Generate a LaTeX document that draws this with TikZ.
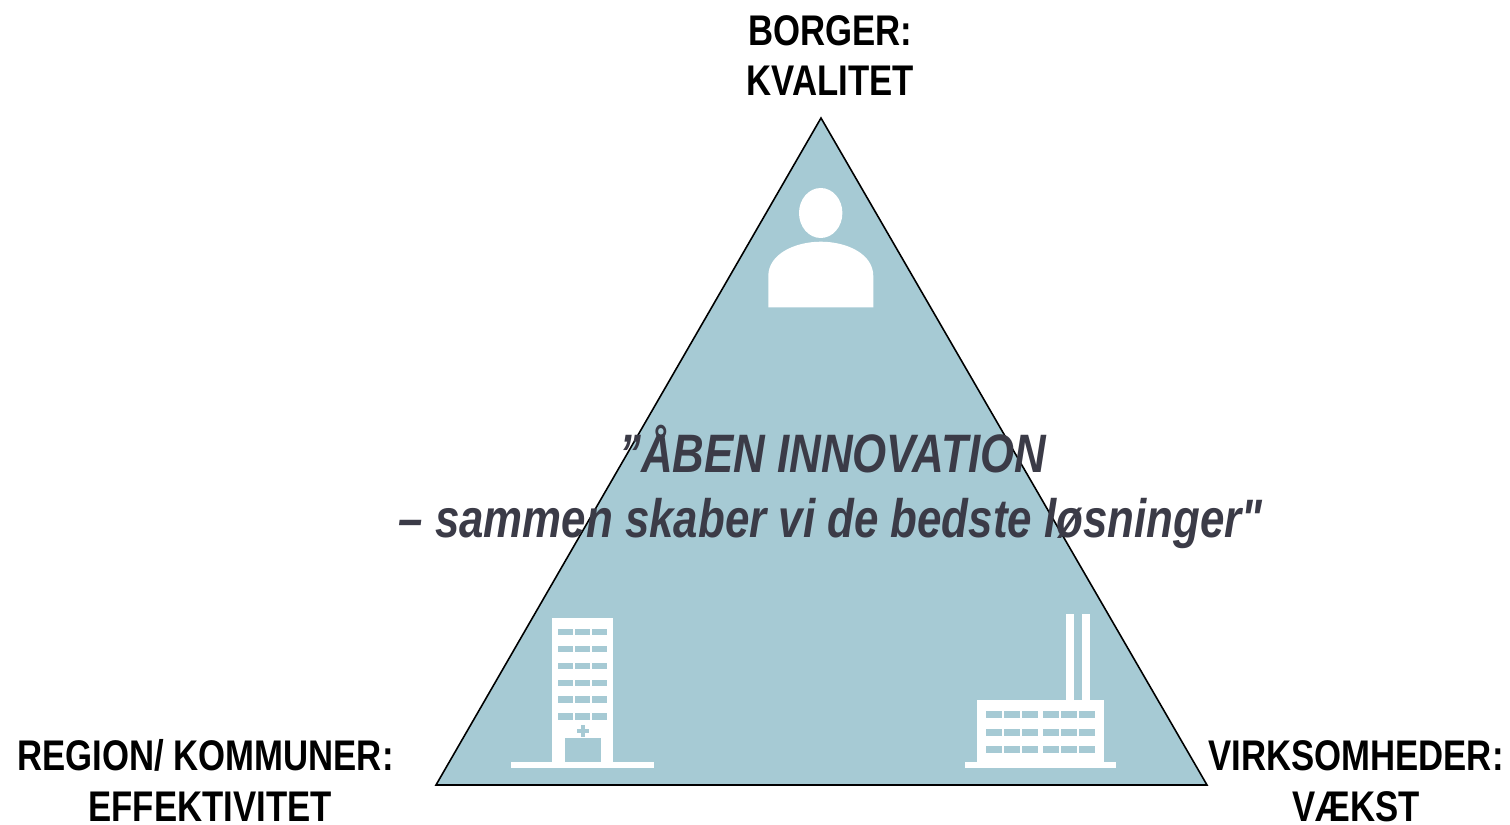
\documentclass[tikz,border=0pt]{standalone}
\usepackage{fontspec}
\setmainfont[FakeStretch=0.81,Ligatures=TeXOff]{Liberation Sans}
\definecolor{tealfill}{HTML}{A6CAD4}
\definecolor{slatetext}{HTML}{3B3B47}
\begin{document}
\begin{tikzpicture}[x=0.1mm,y=-0.1mm,
                corner label/.style={inner sep=0pt,align=center,text=black,font=\fontsize{12.2}{14.4}\selectfont\bfseries},
                slogan/.style={inner sep=0pt,align=center,text=slatetext,font=\fontsize{15.4}{18.5}\selectfont\bfseries\itshape},
                icon/.style={fill=white,draw=none},
                pane/.style={fill=tealfill,draw=none}]

	\useasboundingbox (0,0) rectangle (1510,825);

	\coordinate (top) at (821,118);
	\coordinate (left) at (436,785);
	\coordinate (right) at (1207,785);
	\draw[fill=tealfill,line width=0.45pt,line join=miter] (top) -- (left) -- (right) -- cycle;

	% person
	\fill[icon] (820.7,213) ellipse [x radius=21.7,y radius=25];
	\fill[icon] (768.3,307.3) -- (768.3,276) .. controls (768.3,254) and (795,241.7) .. (820.8,241.7)
		.. controls (847,241.7) and (873.3,254) .. (873.3,276) -- (873.3,307.3) -- cycle;

	% hospital
	\fill[icon] (552,618) rectangle (613,762);
	\fill[icon] (511,762) rectangle (654,768);
	\foreach \row in {0,...,5}
		\foreach \col in {558.3,575,592}
			\fill[pane] (\col,628.9+16.9*\row) rectangle (\col+15,635.1+16.9*\row);
	\fill[pane] (577,729) rectangle (589,732.6);
	\fill[pane] (581,725) rectangle (585,737);
	\fill[pane] (565,738.3) rectangle (600.7,762);

	% factory
	\fill[icon] (1066.3,614) rectangle (1074.3,700);
	\fill[icon] (1082,614) rectangle (1090,700);
	\fill[icon] (977.3,700) rectangle (1103.7,762);
	\fill[icon] (965.3,762) rectangle (1116.3,768);
	\foreach \rowy in {711,728.7,746}
		\foreach \col in {986,1004,1022,1043.3,1061.3,1079.3}
			\fill[pane] (\col,\rowy) rectangle (\col+16,\rowy+7);

	\node[slogan] (motto) at (830.5,486.5) {\hspace*{1.2pt}”ÅBEN INNOVATION\\– sammen skaber vi de bedste løsninger"};
	\node[corner label] (citizen) at (830.5,55.5) {BORGER:\\KVALITET};
	\node[corner label] (region) at (205.5,780.5) {REGION/ KOMMUNER:\\\hspace*{2.6pt}EFFEKTIVITET};
	\node[corner label] (firms) at (1356,781.5) {VIRKSOMHEDER:\\VÆKST};
\end{tikzpicture}
\end{document}
